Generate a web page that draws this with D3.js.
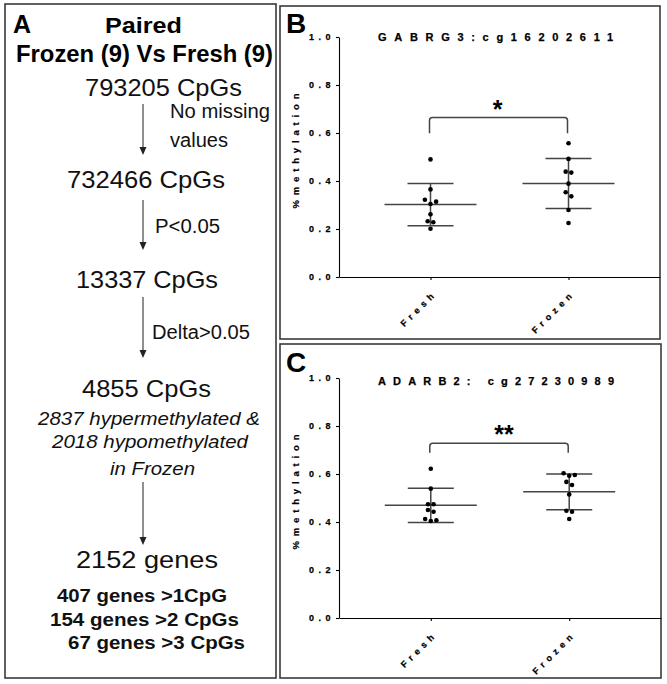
<!DOCTYPE html>
<html><head><meta charset="utf-8">
<script src="https://cdn.jsdelivr.net/npm/d3@7"></script>
<style>
body{margin:0;background:#fff}
text{font-family:"Liberation Sans",Arial,Helvetica,sans-serif}
</style>
</head><body>
<svg id="chart" width="667" height="684"></svg>
<script>
// ---------------- DATA ----------------
const groups = ["Fresh", "Frozen"];
const yTicks = [0, 0.2, 0.4, 0.6, 0.8, 1.0];
const yLabel = "%methylation";

const titleB = "GABRG3:cg16202611";
const freshB = [0.490, 0.365, 0.322, 0.314, 0.304, 0.261, 0.232, 0.228, 0.201];
const frozenB = [0.557, 0.492, 0.439, 0.435, 0.389, 0.353, 0.336, 0.279, 0.225];

const titleC = "ADARB2: cg27230989";
const freshC = [0.622, 0.539, 0.474, 0.474, 0.450, 0.443, 0.4125, 0.407, 0.404];
const frozenC = [0.603, 0.596, 0.593, 0.567, 0.554, 0.515, 0.447, 0.443, 0.4125];

const sigLabels = ["*", "**"];
const bracketTop = [0.665, 0.728];
const bracketEnd = [0.599, 0.689];

const panelLetters = ["A", "B", "C"];
const headingText = ["Paired", "Frozen (9) Vs Fresh (9)"];
const flowText = ["793205 CpGs", "No missing", "values", "732466 CpGs", "P<0.05",
  "13337 CpGs", "Delta>0.05", "4855 CpGs", "2837 hypermethylated &",
  "2018 hypomethylated", "in Frozen", "2152 genes",
  "407 genes >1CpG", "154 genes >2 CpGs", "67 genes >3 CpGs"];

// ---------------- LAYOUT ----------------
const svg = d3.select("#chart");
const borderColor = "#3a3a3a";
const FONT = '"Liberation Sans",Arial,Helvetica,sans-serif';

const frames = [
  {x: 5, y: 4, w: 271, h: 674},
  {x: 280, y: 6, w: 380, h: 333},
  {x: 280, y: 344, w: 381, h: 334}
];
svg.selectAll("rect.frame").data(frames).join("rect")
  .attr("class", "frame")
  .attr("x", d => d.x).attr("y", d => d.y).attr("width", d => d.w).attr("height", d => d.h)
  .attr("fill", "none").attr("stroke", borderColor).attr("stroke-width", 1.6);

const letterPos = [{x: 13, y: 33, s: 25}, {x: 286, y: 33, s: 28}, {x: 286, y: 372, s: 28}];
panelLetters.forEach((t, i) => {
  svg.append("text").attr("x", letterPos[i].x).attr("y", letterPos[i].y)
    .attr("font-size", letterPos[i].s).attr("font-weight", "bold").attr("fill", "#000").text(t);
});

const headingPos = [
  {x: 105, y: 33, s: 22, w: 77},
  {x: 16, y: 62, s: 23, w: 257}
];
headingText.forEach((t, i) => {
  const p = headingPos[i];
  svg.append("text").attr("x", p.x).attr("y", p.y).attr("font-size", p.s)
    .attr("font-weight", "bold").attr("textLength", p.w).attr("lengthAdjust", "spacingAndGlyphs")
    .text(t);
});

const flowPos = [
  {x: 85, y: 96, s: 24, w: 157},
  {x: 170, y: 118, s: 20, w: 100},
  {x: 170, y: 147, s: 20, w: 58},
  {x: 67, y: 188, s: 24, w: 158},
  {x: 155, y: 233, s: 20, w: 65},
  {x: 76, y: 288, s: 24, w: 142},
  {x: 152, y: 339, s: 20, w: 98},
  {x: 82, y: 397, s: 24, w: 129},
  {x: 38, y: 425, s: 19, w: 222, st: "italic"},
  {x: 52, y: 448, s: 19, w: 196, st: "italic"},
  {x: 110, y: 475, s: 19, w: 85, st: "italic"},
  {x: 76, y: 568, s: 24, w: 142},
  {x: 57, y: 602, s: 18, w: 170, b: true},
  {x: 50, y: 626, s: 18, w: 189, b: true},
  {x: 68, y: 649, s: 18, w: 177, b: true}
];
flowText.forEach((t, i) => {
  const p = flowPos[i];
  svg.append("text").attr("x", p.x).attr("y", p.y).attr("font-size", p.s)
    .attr("font-weight", p.b ? "bold" : "normal")
    .attr("font-style", p.st || "normal")
    .attr("textLength", p.w).attr("lengthAdjust", "spacingAndGlyphs")
    .attr("fill", "#111")
    .text(t);
});

const arrows = [[104, 155], [200, 250], [297, 358], [482, 545]];
const ax = 143;
arrows.forEach(([y1, y2]) => {
  svg.append("line").attr("x1", ax).attr("x2", ax).attr("y1", y1).attr("y2", y2 - 5)
    .attr("stroke", "#333").attr("stroke-width", 1.1);
  svg.append("path").attr("d", `M${ax - 3.5},${y2 - 8} L${ax + 3.5},${y2 - 8} L${ax},${y2} Z`)
    .attr("fill", "#222");
});

// ---------------- SCATTER PANELS ----------------
function swarm(vals, y, step) {
  const sorted = vals.slice().sort((a, b) => b - a);
  const rows = [];
  let cur = [sorted[0]];
  for (let i = 1; i < sorted.length; i++) {
    if (Math.abs(y(sorted[i]) - y(sorted[i - 1])) < 5) cur.push(sorted[i]);
    else { rows.push(cur); cur = [sorted[i]]; }
  }
  rows.push(cur);
  const out = [];
  rows.forEach(row => {
    const n = row.length;
    if (n % 2 === 0) {
      row.forEach((v, i) => out.push({v, dx: (i - (n - 1) / 2) * step}));
    } else {
      out.push({v: row[n - 1], dx: 0});
      for (let i = 0; i < n - 1; i++) {
        const k = Math.floor(i / 2) + 1;
        out.push({v: row[i], dx: (i % 2 === 0 ? -1 : 1) * k * step});
      }
    }
  });
  return out;
}

function drawPlot(cfg) {
  const g = svg.append("g");
  const y = d3.scaleLinear().domain([0, 1]).range([cfg.bottom, cfg.top]);
  const x = d3.scalePoint().domain(groups).range([cfg.left, cfg.right]).padding(0.663);

  const ya = g.append("g").attr("transform", `translate(${cfg.left},0)`)
    .call(d3.axisLeft(y).tickValues(yTicks).tickFormat(d3.format(".1f"))
      .tickSize(3).tickSizeOuter(0).tickPadding(1));
  ya.attr("font-family", FONT);
  ya.selectAll("text").attr("font-size", 9).attr("font-weight", "bold")
    .attr("letter-spacing", "4.5px").attr("fill", "#000")
    .attr("stroke", "#000").attr("stroke-width", 0.25);
  ya.selectAll("path,line").attr("stroke", "#000").attr("stroke-width", 1.1);

  const xa = g.append("g").attr("transform", `translate(0,${cfg.bottom})`)
    .call(d3.axisBottom(x).tickSize(3).tickSizeOuter(0).tickFormat(""));
  xa.selectAll("path,line").attr("stroke", "#000").attr("stroke-width", 1.1);

  g.selectAll(null).data(groups).join("text")
    .attr("transform", d => `translate(${x(d) + 7},${cfg.bottom + 17}) rotate(-45)`)
    .attr("text-anchor", "end")
    .attr("font-size", 9).attr("font-weight", "bold")
    .attr("letter-spacing", "4.5px").attr("fill", "#000")
    .attr("stroke", "#000").attr("stroke-width", 0.25)
    .text(d => d);

  g.append("text")
    .attr("transform", `translate(${cfg.ylabX},${cfg.ylabY}) rotate(-90)`)
    .attr("text-anchor", "middle").attr("dominant-baseline", "central")
    .attr("font-size", 9.5).attr("font-weight", "bold")
    .attr("textLength", 115).attr("lengthAdjust", "spacing")
    .attr("stroke", "#000").attr("stroke-width", 0.2)
    .text(yLabel);

  g.append("text").attr("x", cfg.titleX).attr("y", cfg.titleY)
    .attr("font-size", 11).attr("font-weight", "bold")
    .attr("textLength", cfg.titleW).attr("lengthAdjust", "spacing")
    .attr("stroke", "#000").attr("stroke-width", 0.25)
    .text(cfg.title);

  const series = [cfg.fresh, cfg.frozen];
  series.forEach((vals, gi) => {
    const cx = x(groups[gi]);
    const m = d3.mean(vals), sd = d3.deviation(vals);
    const lc = "#444";
    g.append("line").attr("x1", cx).attr("x2", cx).attr("y1", y(m + sd)).attr("y2", y(m - sd))
      .attr("stroke", lc).attr("stroke-width", 1.5);
    g.append("line").attr("x1", cx - 46).attr("x2", cx + 46).attr("y1", y(m)).attr("y2", y(m))
      .attr("stroke", lc).attr("stroke-width", 1.5);
    [m + sd, m - sd].forEach(v => {
      g.append("line").attr("x1", cx - 23).attr("x2", cx + 23).attr("y1", y(v)).attr("y2", y(v))
        .attr("stroke", lc).attr("stroke-width", 1.5);
    });
    g.selectAll(null).data(swarm(vals, y, 5.6)).join("circle")
      .attr("cx", d => cx + d.dx).attr("cy", d => y(d.v)).attr("r", 2.3).attr("fill", "#000");
  });

  const x1 = x(groups[0]) - 1, x2 = x(groups[1]) - 1;
  const yt = y(cfg.bTop), ye = y(cfg.bEnd), r = 3;
  g.append("path")
    .attr("d", `M${x1},${ye} L${x1},${yt + r} Q${x1},${yt} ${x1 + r},${yt} L${x2 - r},${yt} Q${x2},${yt} ${x2},${yt + r} L${x2},${ye}`)
    .attr("fill", "none").attr("stroke", "#444").attr("stroke-width", 1.5);
  g.append("text").attr("x", (x1 + x2) / 2 + cfg.sigDx).attr("y", yt + cfg.sigDy)
    .attr("text-anchor", "middle").attr("font-size", 25).attr("font-weight", "bold")
    .text(cfg.sig);
}

drawPlot({left: 339, right: 660, top: 37, bottom: 277, title: titleB,
  titleX: 378, titleY: 41, titleW: 235, ylabX: 295, ylabY: 151,
  fresh: freshB, frozen: frozenB, sig: sigLabels[0], bTop: bracketTop[0], bEnd: bracketEnd[0],
  sigDx: -1, sigDy: 1});
drawPlot({left: 339, right: 661, top: 378, bottom: 618, title: titleC,
  titleX: 378, titleY: 385, titleW: 236, ylabX: 295, ylabY: 492,
  fresh: freshC, frozen: frozenC, sig: sigLabels[1], bTop: bracketTop[1], bEnd: bracketEnd[1],
  sigDx: 5, sigDy: 0});
</script>
</body></html>
